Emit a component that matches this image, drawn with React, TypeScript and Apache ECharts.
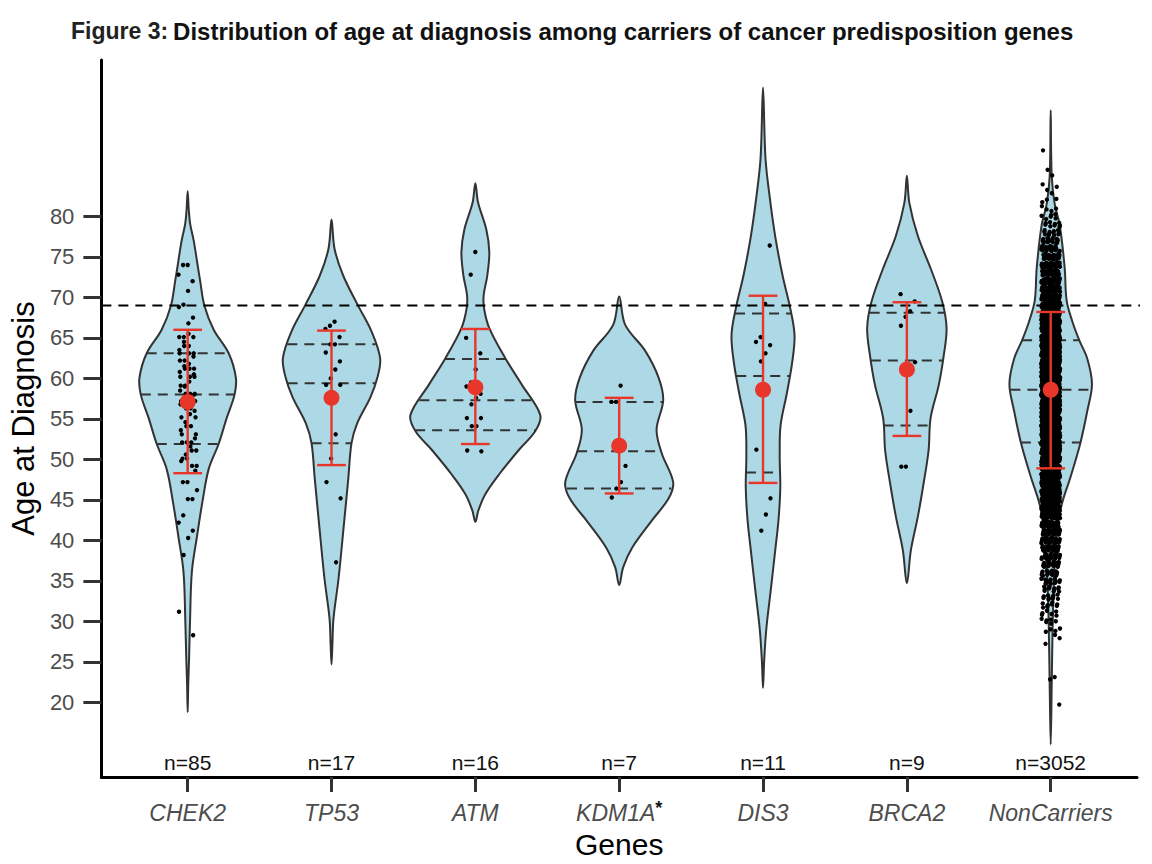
import React, { useEffect, useRef } from 'react';
import * as echarts from 'echarts';

const FONT = '"Liberation Sans", Arial, Helvetica, sans-serif';

const GENES = ['CHEK2', 'TP53', 'ATM', 'KDM1A', 'DIS3', 'BRCA2', 'NonCarriers'];
const GENE_SUPERSCRIPTS = ['', '', '', '*', '', '', ''];
const SAMPLE_SIZES = [85, 17, 16, 7, 11, 9, 3052];
const MEANS = [57.1, 57.6, 58.9, 51.7, 58.6, 61.1, 58.6];
const SD_LOW = [48.3, 49.3, 51.9, 45.8, 47.1, 52.9, 48.9];
const SD_HIGH = [66.0, 65.9, 66.1, 57.6, 70.2, 69.4, 68.2];
const QUARTILE_25 = [51.9, 52.0, 53.6, 46.4, 48.4, 54.2, 52.1];
const QUARTILE_50 = [58.0, 59.4, 57.3, 51.0, 60.3, 62.2, 58.6];
const QUARTILE_75 = [63.1, 64.2, 62.4, 57.1, 68.0, 68.1, 64.7];
const REFERENCE_AGE = 69;
const Y_TICKS = [20, 25, 30, 35, 40, 45, 50, 55, 60, 65, 70, 75, 80];
const X_TICKS = [1, 2, 3, 4, 5, 6, 7];
const N_LABEL_AGE = 12.6;

// violin profiles: [age, half-width in category units]
const CHEK2_PROFILE = [[18.8, 0], [22.2, 0.004], [25.6, 0.010], [29.8, 0.016], [36.1, 0.029], [40.3, 0.063], [44.6, 0.101], [48.8, 0.146], [51.9, 0.215], [55.1, 0.271], [58.0, 0.326], [60.1, 0.335], [63.1, 0.285], [66.0, 0.181], [69.0, 0.116], [72.0, 0.087], [74.0, 0.069], [77.0, 0.042], [79.1, 0.017], [81.0, 0.007], [83.1, 0]];
const TP53_PROFILE = [[24.7, 0], [27.1, 0.006], [30.4, 0.014], [35.3, 0.049], [41.4, 0.083], [47.5, 0.116], [52.0, 0.139], [54.4, 0.177], [57.7, 0.271], [60.1, 0.319], [62.5, 0.338], [65.8, 0.278], [69.1, 0.181], [72.7, 0.081], [76.0, 0.021], [79.6, 0]];
const ATM_PROFILE = [[42.3, 0], [43.7, 0.021], [45.7, 0.069], [48.2, 0.167], [51.1, 0.299], [53.5, 0.417], [55.5, 0.451], [59.2, 0.324], [62.5, 0.208], [66.2, 0.097], [68.6, 0.061], [70.3, 0.058], [72.7, 0.083], [75.6, 0.097], [78.4, 0.076], [81.7, 0.019], [84.1, 0]];
const KDM1A_PROFILE = [[34.5, 0], [36.7, 0.028], [39.1, 0.090], [42.3, 0.220], [45.2, 0.344], [47.2, 0.375], [50.8, 0.295], [53.7, 0.260], [57.3, 0.306], [60.1, 0.274], [63.4, 0.181], [66.6, 0.042], [70.1, 0]];
const DIS3_PROFILE = [[21.8, 0], [25.2, 0.008], [29.1, 0.023], [33.9, 0.054], [38.8, 0.085], [42.6, 0.108], [46.5, 0.120], [50.4, 0.116], [54.2, 0.122], [58.1, 0.165], [62.0, 0.203], [65.4, 0.219], [69.0, 0.185], [72.6, 0.137], [77.5, 0.085], [82.3, 0.047], [87.2, 0.017], [95.9, 0]];
const BRCA2_PROFILE = [[34.7, 0], [38.8, 0.028], [42.9, 0.076], [47.0, 0.116], [51.1, 0.151], [55.1, 0.165], [59.2, 0.222], [62.9, 0.257], [66.2, 0.276], [69.4, 0.247], [73.5, 0.167], [77.6, 0.076], [81.7, 0.017], [85.0, 0]];
const NONCARRIER_PROFILE = [[14.8, 0], [22.1, 0.007], [29.8, 0.014], [35.0, 0.023], [40.2, 0.038], [44.3, 0.075], [47.9, 0.139], [52.0, 0.206], [56.2, 0.257], [59.3, 0.287], [62.4, 0.255], [64.7, 0.199], [67.0, 0.151], [69.6, 0.111], [73.7, 0.097], [78.9, 0.063], [81.5, 0.028], [85.0, 0.007], [93.1, 0]];

// individual ages
const CHEK2_AGES = [74.0, 74.0, 72.8, 72.0, 70.8, 69.1, 68.8, 67.5, 66.8, 65.1, 65.1, 65.1, 64.0, 64.0, 63.1, 63.1, 63.1, 62.2, 62.2, 61.2, 61.2, 61.2, 60.2, 60.2, 60.2, 59.1, 59.1, 58.1, 58.1, 58.1, 57.2, 57.2, 56.3, 56.3, 55.2, 55.2, 54.1, 54.1, 53.1, 53.1, 52.1, 52.1, 52.1, 51.1, 51.1, 50.1, 50.1, 49.2, 49.2, 47.2, 47.2, 46.2, 45.1, 45.1, 43.1, 42.2, 41.2, 40.3, 38.2, 31.2, 28.3, 65.5, 64.5, 63.5, 62.7, 61.8, 61.5, 60.8, 60.5, 59.6, 59.0, 58.5, 58.0, 57.8, 57.5, 56.8, 56.0, 55.6, 54.6, 53.6, 52.6, 51.6, 50.6, 49.8, 48.6];
const TP53_AGES = [67.0, 66.5, 66.1, 65.1, 64.2, 64.2, 63.2, 62.1, 61.1, 60.0, 59.2, 59.2, 53.1, 50.1, 47.2, 45.2, 37.3];
const ATM_AGES = [75.6, 72.8, 65.0, 63.1, 61.1, 59.5, 59.0, 58.1, 57.6, 56.8, 55.1, 55.1, 54.1, 54.1, 51.1, 51.0];
const KDM1A_AGES = [59.1, 57.1, 57.1, 49.2, 47.2, 46.4, 45.3];
const DIS3_AGES = [76.4, 69.2, 65.1, 64.5, 64.1, 63.1, 62.1, 51.2, 45.2, 43.2, 41.2];
const BRCA2_AGES = [70.4, 69.5, 68.3, 67.6, 66.5, 62.0, 56.0, 49.1, 49.1];
const NONCARRIER_AGE_VALUES = [20, 23, 27, 28, 29, 30, 31, 32, 33, 34, 35, 36, 37, 38, 39, 40, 41, 42, 43, 44, 45, 46, 47, 48, 49, 50, 51, 52, 53, 54, 55, 56, 57, 58, 59, 60, 61, 62, 63, 64, 65, 66, 67, 68, 69, 70, 71, 72, 73, 74, 75, 76, 77, 78, 79, 80, 81, 82, 83, 84, 85, 86, 88];
const NONCARRIER_AGE_COUNTS = [1, 2, 1, 2, 4, 6, 6, 8, 10, 11, 14, 16, 19, 22, 26, 30, 35, 40, 46, 52, 58, 65, 72, 80, 88, 95, 102, 108, 114, 118, 112, 116, 118, 121, 122, 119, 115, 112, 106, 100, 90, 80, 70, 62, 56, 50, 45, 40, 35, 30, 25, 20, 16, 12, 9, 6, 4, 3, 2, 2, 1, 1, 1];

const PROFILES = [CHEK2_PROFILE, TP53_PROFILE, ATM_PROFILE, KDM1A_PROFILE, DIS3_PROFILE, BRCA2_PROFILE, NONCARRIER_PROFILE];
const CARRIER_AGES = [CHEK2_AGES, TP53_AGES, ATM_AGES, KDM1A_AGES, DIS3_AGES, BRCA2_AGES];

const RED = '#e8372a';
const FILL = '#add8e6';
const OUTLINE = '#333333';

const jitterX = (k: number) => (((0.5 + k * 0.7548776662) % 1) - 0.5) * 0.13;
const jitterY = (k: number) => (((0.5 + k * 0.5698402911) % 1) - 0.5) * 0.7;

function widthAt(profile: number[][], age: number): number {
  for (let i = 0; i < profile.length - 1; i++) {
    const [a0, w0] = profile[i];
    const [a1, w1] = profile[i + 1];
    if (age >= a0 && age <= a1) {
      const t = (age - a0) / (a1 - a0);
      return w0 + (w1 - w0) * t;
    }
  }
  return 0;
}

function buildPoints(): number[][] {
  const pts: number[][] = [];
  let k = 0;
  CARRIER_AGES.forEach((ages, g) => {
    ages.forEach((a) => {
      pts.push([g + 1 + jitterX(k), a]);
      k++;
    });
  });
  NONCARRIER_AGE_VALUES.forEach((a, j) => {
    for (let c = 0; c < NONCARRIER_AGE_COUNTS[j]; c++) {
      pts.push([7 + jitterX(k), a + jitterY(k)]);
      k++;
    }
  });
  return pts;
}

export default function App() {
  const ref = useRef<HTMLDivElement>(null);

  useEffect(() => {
    if (!ref.current) return;
    const chart = echarts.init(ref.current, undefined, { renderer: 'svg' });

    const violinSeries = {
      type: 'custom',
      data: GENES.map((_, i) => [i + 1]),
      renderItem: (params: any, api: any) => {
        const i = params.dataIndex;
        const cx = i + 1;
        const prof = PROFILES[i];
        const right = prof.map(([a, w]) => api.coord([cx + w, a]));
        const left = prof
          .slice(1, prof.length - 1)
          .reverse()
          .map(([a, w]) => api.coord([cx - w, a]));
        const children: any[] = [
          {
            type: 'polygon',
            shape: { points: right.concat(left), smooth: 0.35 },
            style: { fill: FILL, stroke: OUTLINE, lineWidth: 2 },
          },
        ];
        [QUARTILE_25[i], QUARTILE_50[i], QUARTILE_75[i]].forEach((q) => {
          const w = widthAt(prof, q);
          const p0 = api.coord([cx - w, q]);
          const p1 = api.coord([cx + w, q]);
          children.push({
            type: 'line',
            shape: { x1: p0[0], y1: p0[1], x2: p1[0], y2: p1[1] },
            style: { stroke: OUTLINE, lineWidth: 2, lineDash: [10, 7] },
          });
        });
        return { type: 'group', children };
      },
      silent: true,
      z: 1,
    };

    const refLineSeries = {
      type: 'custom',
      data: [[REFERENCE_AGE]],
      renderItem: (params: any, api: any) => {
        const p0 = api.coord([0.4, api.value(0)]);
        const p1 = api.coord([7.6, api.value(0)]);
        return {
          type: 'line',
          shape: { x1: p0[0], y1: p0[1], x2: p1[0] + 3, y2: p1[1] },
          style: { stroke: '#000', lineWidth: 2, lineDash: [10, 7] },
        };
      },
      silent: true,
      z: 2,
    };

    const pointSeries = {
      type: 'scatter',
      data: buildPoints(),
      symbol: 'circle',
      symbolSize: 4.4,
      itemStyle: { color: '#000', opacity: 1 },
      progressive: 0,
      silent: true,
      z: 3,
    };

    const errorSeries = {
      type: 'custom',
      data: GENES.map((_, i) => [i + 1, SD_LOW[i], SD_HIGH[i]]),
      renderItem: (params: any, api: any) => {
        const x = api.value(0);
        const lo = api.coord([x, api.value(1)]);
        const hi = api.coord([x, api.value(2)]);
        const capL = api.coord([x - 0.1, api.value(1)])[0];
        const capR = api.coord([x + 0.1, api.value(1)])[0];
        const st = { stroke: RED, lineWidth: 2.4 };
        return {
          type: 'group',
          children: [
            { type: 'line', shape: { x1: lo[0], y1: lo[1], x2: hi[0], y2: hi[1] }, style: st },
            { type: 'line', shape: { x1: capL, y1: lo[1], x2: capR, y2: lo[1] }, style: st },
            { type: 'line', shape: { x1: capL, y1: hi[1], x2: capR, y2: hi[1] }, style: st },
          ],
        };
      },
      silent: true,
      z: 4,
    };

    const meanSeries = {
      type: 'scatter',
      data: MEANS.map((m, i) => [i + 1, m]),
      symbol: 'circle',
      symbolSize: 16,
      itemStyle: { color: RED, opacity: 1 },
      silent: true,
      z: 5,
    };

    const nLabelSeries = {
      type: 'custom',
      data: SAMPLE_SIZES.map((n, i) => [i + 1, N_LABEL_AGE, n]),
      renderItem: (params: any, api: any) => {
        const p = api.coord([api.value(0), api.value(1)]);
        return {
          type: 'text',
          x: p[0],
          y: p[1],
          style: {
            text: 'n=' + api.value(2),
            fill: '#111',
            fontSize: 21,
            fontFamily: FONT,
            align: 'center',
            verticalAlign: 'middle',
          },
        };
      },
      silent: true,
      z: 6,
    };

    chart.setOption({
      animation: false,
      backgroundColor: '#ffffff',
      title: {
        left: 66,
        top: 14,
        text: '{a|Figure 3:} {b|Distribution of age at diagnosis among carriers of cancer predisposition genes}',
        textStyle: {
          rich: {
            a: { fontSize: 23, fontWeight: 'bold', color: '#222', fontFamily: FONT },
            b: { fontSize: 24, fontWeight: 'bold', color: '#111', fontFamily: FONT },
          },
        },
      },
      grid: { left: 100, right: 15, top: 60, bottom: 84, containLabel: false },
      xAxis: {
        type: 'value',
        min: 0.4,
        max: 7.6,
        name: 'Genes',
        nameLocation: 'middle',
        nameGap: 52,
        nameTextStyle: { fontSize: 30, color: '#000', fontFamily: FONT },
        splitLine: { show: false },
        axisLine: { show: true, onZero: false, lineStyle: { color: '#000', width: 3 } },
        axisTick: { show: true, customValues: X_TICKS, length: 15, lineStyle: { color: '#333', width: 3 } },
        axisLabel: {
          customValues: X_TICKS,
          margin: 22,
          formatter: (v: number) => {
            const i = Math.round(v) - 1;
            const sup = GENE_SUPERSCRIPTS[i];
            return sup ? `{g|${GENES[i]}}{s|${sup}}` : `{g|${GENES[i]}}`;
          },
          rich: {
            g: { fontSize: 23, lineHeight: 27, fontStyle: 'italic', color: '#4d4d4d', fontFamily: FONT },
            s: { fontSize: 18, lineHeight: 14, fontWeight: 'bold', color: '#111', fontFamily: FONT, verticalAlign: 'top' },
          },
        },
      },
      yAxis: {
        type: 'value',
        min: 10.8,
        max: 99.3,
        name: 'Age at Diagnosis',
        nameLocation: 'middle',
        nameGap: 57,
        nameTextStyle: { fontSize: 31, color: '#000', fontFamily: FONT },
        splitLine: { show: false },
        axisLine: { show: true, onZero: false, lineStyle: { color: '#000', width: 3 } },
        axisTick: { show: true, customValues: Y_TICKS, length: 18, lineStyle: { color: '#333', width: 3 } },
        axisLabel: {
          customValues: Y_TICKS,
          margin: 27,
          fontSize: 22,
          color: '#4d4d4d',
          fontFamily: FONT,
        },
      },
      series: [violinSeries, refLineSeries, pointSeries, errorSeries, meanSeries, nLabelSeries],
    } as any);

    return () => chart.dispose();
  }, []);

  return (
    <div
      ref={ref}
      style={{ position: 'fixed', left: 0, top: 0, width: 1152, height: 864, background: '#fff' }}
    />
  );
}
